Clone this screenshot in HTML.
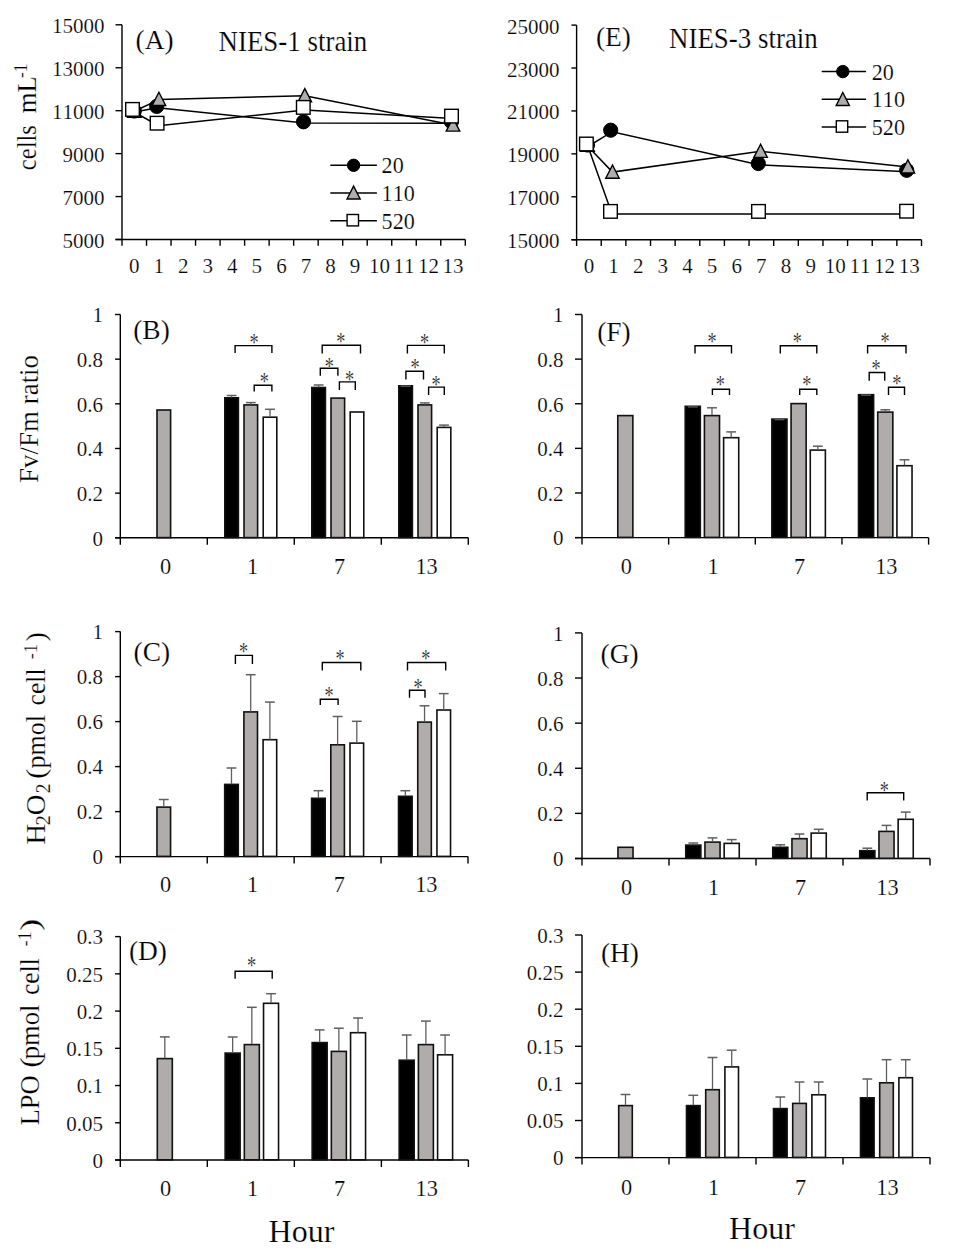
<!DOCTYPE html>
<html><head><meta charset="utf-8"><style>
html,body{margin:0;padding:0;background:#fff;}
svg{display:block;}
text{font-family:"Liberation Serif", serif;fill:#000;font-kerning:none;stroke:#fff;stroke-width:0.2px;}
</style></head><body>
<svg width="954" height="1256" viewBox="0 0 954 1256">
<rect width="954" height="1256" fill="#fff"/>
<line x1="122.00" y1="24.80" x2="122.00" y2="245.80" stroke="#000" stroke-width="1.4" stroke-linecap="butt"/>
<line x1="115.50" y1="239.50" x2="465.30" y2="239.50" stroke="#000" stroke-width="1.4" stroke-linecap="butt"/>
<line x1="115.50" y1="24.80" x2="122.00" y2="24.80" stroke="#000" stroke-width="1.4" stroke-linecap="butt"/>
<text x="104.50" y="33.30" font-size="21" text-anchor="end" >15000</text>
<line x1="115.50" y1="67.74" x2="122.00" y2="67.74" stroke="#000" stroke-width="1.4" stroke-linecap="butt"/>
<text x="104.50" y="76.24" font-size="21" text-anchor="end" >13000</text>
<line x1="115.50" y1="110.68" x2="122.00" y2="110.68" stroke="#000" stroke-width="1.4" stroke-linecap="butt"/>
<text x="104.50" y="119.18" font-size="21" text-anchor="end" >11000</text>
<line x1="115.50" y1="153.62" x2="122.00" y2="153.62" stroke="#000" stroke-width="1.4" stroke-linecap="butt"/>
<text x="104.50" y="162.12" font-size="21" text-anchor="end" >9000</text>
<line x1="115.50" y1="196.56" x2="122.00" y2="196.56" stroke="#000" stroke-width="1.4" stroke-linecap="butt"/>
<text x="104.50" y="205.06" font-size="21" text-anchor="end" >7000</text>
<line x1="115.50" y1="239.50" x2="122.00" y2="239.50" stroke="#000" stroke-width="1.4" stroke-linecap="butt"/>
<text x="104.50" y="248.00" font-size="21" text-anchor="end" >5000</text>
<line x1="146.52" y1="239.50" x2="146.52" y2="245.80" stroke="#000" stroke-width="1.4" stroke-linecap="butt"/>
<line x1="171.04" y1="239.50" x2="171.04" y2="245.80" stroke="#000" stroke-width="1.4" stroke-linecap="butt"/>
<line x1="195.56" y1="239.50" x2="195.56" y2="245.80" stroke="#000" stroke-width="1.4" stroke-linecap="butt"/>
<line x1="220.09" y1="239.50" x2="220.09" y2="245.80" stroke="#000" stroke-width="1.4" stroke-linecap="butt"/>
<line x1="244.61" y1="239.50" x2="244.61" y2="245.80" stroke="#000" stroke-width="1.4" stroke-linecap="butt"/>
<line x1="269.13" y1="239.50" x2="269.13" y2="245.80" stroke="#000" stroke-width="1.4" stroke-linecap="butt"/>
<line x1="293.65" y1="239.50" x2="293.65" y2="245.80" stroke="#000" stroke-width="1.4" stroke-linecap="butt"/>
<line x1="318.17" y1="239.50" x2="318.17" y2="245.80" stroke="#000" stroke-width="1.4" stroke-linecap="butt"/>
<line x1="342.69" y1="239.50" x2="342.69" y2="245.80" stroke="#000" stroke-width="1.4" stroke-linecap="butt"/>
<line x1="367.21" y1="239.50" x2="367.21" y2="245.80" stroke="#000" stroke-width="1.4" stroke-linecap="butt"/>
<line x1="391.74" y1="239.50" x2="391.74" y2="245.80" stroke="#000" stroke-width="1.4" stroke-linecap="butt"/>
<line x1="416.26" y1="239.50" x2="416.26" y2="245.80" stroke="#000" stroke-width="1.4" stroke-linecap="butt"/>
<line x1="440.78" y1="239.50" x2="440.78" y2="245.80" stroke="#000" stroke-width="1.4" stroke-linecap="butt"/>
<line x1="465.30" y1="239.50" x2="465.30" y2="245.80" stroke="#000" stroke-width="1.4" stroke-linecap="butt"/>
<text x="134.26" y="273.30" font-size="21" text-anchor="middle" >0</text>
<text x="158.78" y="273.30" font-size="21" text-anchor="middle" >1</text>
<text x="183.30" y="273.30" font-size="21" text-anchor="middle" >2</text>
<text x="207.82" y="273.30" font-size="21" text-anchor="middle" >3</text>
<text x="232.35" y="273.30" font-size="21" text-anchor="middle" >4</text>
<text x="256.87" y="273.30" font-size="21" text-anchor="middle" >5</text>
<text x="281.39" y="273.30" font-size="21" text-anchor="middle" >6</text>
<text x="305.91" y="273.30" font-size="21" text-anchor="middle" >7</text>
<text x="330.43" y="273.30" font-size="21" text-anchor="middle" >8</text>
<text x="354.95" y="273.30" font-size="21" text-anchor="middle" >9</text>
<text x="379.48" y="273.30" font-size="21" text-anchor="middle" >10</text>
<text x="404.00" y="273.30" font-size="21" text-anchor="middle" >11</text>
<text x="428.52" y="273.30" font-size="21" text-anchor="middle" >12</text>
<text x="453.04" y="273.30" font-size="21" text-anchor="middle" >13</text>
<text transform="translate(135.60,49.40) scale(0.97,1)" font-size="28.3" text-anchor="start">(A)</text>
<text transform="translate(218.50,50.60) scale(0.945,1)" font-size="28.5" text-anchor="start">NIES-1 strain</text>
<polyline points="134.30,112.00 157.60,107.80 304.50,123.00 452.50,123.20" fill="none" stroke="#000" stroke-width="1.5" stroke-linejoin="miter"/>
<polyline points="134.30,111.30 159.50,99.40 304.80,95.70 453.00,125.00" fill="none" stroke="#000" stroke-width="1.5" stroke-linejoin="miter"/>
<polyline points="134.00,112.00 158.60,125.70 304.80,110.00 453.00,118.60" fill="none" stroke="#000" stroke-width="1.5" stroke-linejoin="miter"/>
<circle cx="134.30" cy="111.00" r="7.1" fill="#000" stroke="#000" stroke-width="1"/>
<circle cx="156.70" cy="106.40" r="7.1" fill="#000" stroke="#000" stroke-width="1"/>
<circle cx="303.50" cy="121.80" r="7.1" fill="#000" stroke="#000" stroke-width="1"/>
<circle cx="451.30" cy="121.60" r="7.1" fill="#000" stroke="#000" stroke-width="1"/>
<polygon points="134.30,104.00 141.05,117.20 127.55,117.20" fill="#b0acab" stroke="#000" stroke-width="1.4" stroke-linejoin="miter"/>
<polygon points="158.90,92.30 165.65,105.50 152.15,105.50" fill="#b0acab" stroke="#000" stroke-width="1.4" stroke-linejoin="miter"/>
<polygon points="304.80,88.60 311.55,101.80 298.05,101.80" fill="#b0acab" stroke="#000" stroke-width="1.4" stroke-linejoin="miter"/>
<polygon points="453.00,117.90 459.75,131.10 446.25,131.10" fill="#b0acab" stroke="#000" stroke-width="1.4" stroke-linejoin="miter"/>
<rect x="125.70" y="102.60" width="13.60" height="13.60" fill="#fff" stroke="#000" stroke-width="1.4"/>
<rect x="150.30" y="116.40" width="13.60" height="13.60" fill="#fff" stroke="#000" stroke-width="1.4"/>
<rect x="296.50" y="100.60" width="13.60" height="13.60" fill="#fff" stroke="#000" stroke-width="1.4"/>
<rect x="444.70" y="109.30" width="13.60" height="13.60" fill="#fff" stroke="#000" stroke-width="1.4"/>
<line x1="330.30" y1="165.30" x2="376.90" y2="165.30" stroke="#000" stroke-width="1.5" stroke-linecap="butt"/>
<circle cx="353.60" cy="165.30" r="6.2" fill="#000" stroke="#000" stroke-width="1"/>
<text transform="translate(381.60,173.30) scale(0.94,1)" font-size="23.5" text-anchor="start">20</text>
<line x1="330.30" y1="192.90" x2="376.90" y2="192.90" stroke="#000" stroke-width="1.5" stroke-linecap="butt"/>
<polygon points="353.60,186.15 360.20,199.05 347.00,199.05" fill="#b0acab" stroke="#000" stroke-width="1.4" stroke-linejoin="miter"/>
<text transform="translate(381.60,200.90) scale(0.94,1)" font-size="23.5" text-anchor="start">110</text>
<line x1="330.30" y1="220.70" x2="376.90" y2="220.70" stroke="#000" stroke-width="1.5" stroke-linecap="butt"/>
<rect x="347.10" y="214.50" width="11.40" height="11.40" fill="#fff" stroke="#000" stroke-width="1.4"/>
<text transform="translate(381.60,228.70) scale(0.94,1)" font-size="23.5" text-anchor="start">520</text>
<text transform="translate(35.80,170.14) rotate(-90) scale(0.9000,1)" font-size="27.3" >cells</text>
<text transform="translate(35.80,113.36) rotate(-90) scale(0.9776,1)" font-size="27.3" >mL</text>
<text transform="translate(27.10,78.05) rotate(-90) scale(0.9403,1)" font-size="18.5" >-1</text>
<line x1="576.60" y1="25.10" x2="576.60" y2="246.00" stroke="#000" stroke-width="1.4" stroke-linecap="butt"/>
<line x1="571.40" y1="239.70" x2="921.50" y2="239.70" stroke="#000" stroke-width="1.4" stroke-linecap="butt"/>
<line x1="571.40" y1="25.10" x2="576.60" y2="25.10" stroke="#000" stroke-width="1.4" stroke-linecap="butt"/>
<text x="559.40" y="33.60" font-size="21" text-anchor="end" >25000</text>
<line x1="571.40" y1="68.02" x2="576.60" y2="68.02" stroke="#000" stroke-width="1.4" stroke-linecap="butt"/>
<text x="559.40" y="76.52" font-size="21" text-anchor="end" >23000</text>
<line x1="571.40" y1="110.94" x2="576.60" y2="110.94" stroke="#000" stroke-width="1.4" stroke-linecap="butt"/>
<text x="559.40" y="119.44" font-size="21" text-anchor="end" >21000</text>
<line x1="571.40" y1="153.86" x2="576.60" y2="153.86" stroke="#000" stroke-width="1.4" stroke-linecap="butt"/>
<text x="559.40" y="162.36" font-size="21" text-anchor="end" >19000</text>
<line x1="571.40" y1="196.78" x2="576.60" y2="196.78" stroke="#000" stroke-width="1.4" stroke-linecap="butt"/>
<text x="559.40" y="205.28" font-size="21" text-anchor="end" >17000</text>
<line x1="571.40" y1="239.70" x2="576.60" y2="239.70" stroke="#000" stroke-width="1.4" stroke-linecap="butt"/>
<text x="559.40" y="248.20" font-size="21" text-anchor="end" >15000</text>
<line x1="601.24" y1="239.70" x2="601.24" y2="246.00" stroke="#000" stroke-width="1.4" stroke-linecap="butt"/>
<line x1="625.87" y1="239.70" x2="625.87" y2="246.00" stroke="#000" stroke-width="1.4" stroke-linecap="butt"/>
<line x1="650.51" y1="239.70" x2="650.51" y2="246.00" stroke="#000" stroke-width="1.4" stroke-linecap="butt"/>
<line x1="675.14" y1="239.70" x2="675.14" y2="246.00" stroke="#000" stroke-width="1.4" stroke-linecap="butt"/>
<line x1="699.78" y1="239.70" x2="699.78" y2="246.00" stroke="#000" stroke-width="1.4" stroke-linecap="butt"/>
<line x1="724.41" y1="239.70" x2="724.41" y2="246.00" stroke="#000" stroke-width="1.4" stroke-linecap="butt"/>
<line x1="749.05" y1="239.70" x2="749.05" y2="246.00" stroke="#000" stroke-width="1.4" stroke-linecap="butt"/>
<line x1="773.69" y1="239.70" x2="773.69" y2="246.00" stroke="#000" stroke-width="1.4" stroke-linecap="butt"/>
<line x1="798.32" y1="239.70" x2="798.32" y2="246.00" stroke="#000" stroke-width="1.4" stroke-linecap="butt"/>
<line x1="822.96" y1="239.70" x2="822.96" y2="246.00" stroke="#000" stroke-width="1.4" stroke-linecap="butt"/>
<line x1="847.59" y1="239.70" x2="847.59" y2="246.00" stroke="#000" stroke-width="1.4" stroke-linecap="butt"/>
<line x1="872.23" y1="239.70" x2="872.23" y2="246.00" stroke="#000" stroke-width="1.4" stroke-linecap="butt"/>
<line x1="896.86" y1="239.70" x2="896.86" y2="246.00" stroke="#000" stroke-width="1.4" stroke-linecap="butt"/>
<line x1="921.50" y1="239.70" x2="921.50" y2="246.00" stroke="#000" stroke-width="1.4" stroke-linecap="butt"/>
<text x="588.92" y="272.80" font-size="21" text-anchor="middle" >0</text>
<text x="613.55" y="272.80" font-size="21" text-anchor="middle" >1</text>
<text x="638.19" y="272.80" font-size="21" text-anchor="middle" >2</text>
<text x="662.83" y="272.80" font-size="21" text-anchor="middle" >3</text>
<text x="687.46" y="272.80" font-size="21" text-anchor="middle" >4</text>
<text x="712.10" y="272.80" font-size="21" text-anchor="middle" >5</text>
<text x="736.73" y="272.80" font-size="21" text-anchor="middle" >6</text>
<text x="761.37" y="272.80" font-size="21" text-anchor="middle" >7</text>
<text x="786.00" y="272.80" font-size="21" text-anchor="middle" >8</text>
<text x="810.64" y="272.80" font-size="21" text-anchor="middle" >9</text>
<text x="835.27" y="272.80" font-size="21" text-anchor="middle" >10</text>
<text x="859.91" y="272.80" font-size="21" text-anchor="middle" >11</text>
<text x="884.55" y="272.80" font-size="21" text-anchor="middle" >12</text>
<text x="909.18" y="272.80" font-size="21" text-anchor="middle" >13</text>
<text transform="translate(595.90,46.40) scale(0.97,1)" font-size="28.3" text-anchor="start">(E)</text>
<text transform="translate(669.00,48.20) scale(0.945,1)" font-size="28.5" text-anchor="start">NIES-3 strain</text>
<polyline points="588.00,146.50 612.20,131.70 759.80,164.90 908.20,171.70" fill="none" stroke="#000" stroke-width="1.5" stroke-linejoin="miter"/>
<polyline points="588.00,146.50 612.50,172.10 760.60,151.30 907.90,167.00" fill="none" stroke="#000" stroke-width="1.5" stroke-linejoin="miter"/>
<polyline points="588.00,146.50 612.00,213.90 760.00,213.90 908.10,213.90" fill="none" stroke="#000" stroke-width="1.5" stroke-linejoin="miter"/>
<circle cx="587.50" cy="145.00" r="7.1" fill="#000" stroke="#000" stroke-width="1"/>
<circle cx="610.70" cy="130.20" r="7.1" fill="#000" stroke="#000" stroke-width="1"/>
<circle cx="758.30" cy="163.50" r="7.1" fill="#000" stroke="#000" stroke-width="1"/>
<circle cx="906.70" cy="170.30" r="7.1" fill="#000" stroke="#000" stroke-width="1"/>
<polygon points="587.60,138.00 594.35,151.20 580.85,151.20" fill="#b0acab" stroke="#000" stroke-width="1.4" stroke-linejoin="miter"/>
<polygon points="612.50,165.00 619.25,178.20 605.75,178.20" fill="#b0acab" stroke="#000" stroke-width="1.4" stroke-linejoin="miter"/>
<polygon points="760.60,144.20 767.35,157.40 753.85,157.40" fill="#b0acab" stroke="#000" stroke-width="1.4" stroke-linejoin="miter"/>
<polygon points="907.90,159.80 914.65,173.00 901.15,173.00" fill="#b0acab" stroke="#000" stroke-width="1.4" stroke-linejoin="miter"/>
<rect x="579.60" y="137.20" width="13.60" height="13.60" fill="#fff" stroke="#000" stroke-width="1.4"/>
<rect x="603.70" y="204.60" width="13.60" height="13.60" fill="#fff" stroke="#000" stroke-width="1.4"/>
<rect x="751.70" y="204.60" width="13.60" height="13.60" fill="#fff" stroke="#000" stroke-width="1.4"/>
<rect x="899.80" y="204.40" width="13.60" height="13.60" fill="#fff" stroke="#000" stroke-width="1.4"/>
<line x1="821.70" y1="71.60" x2="866.10" y2="71.60" stroke="#000" stroke-width="1.5" stroke-linecap="butt"/>
<circle cx="842.80" cy="71.60" r="6.2" fill="#000" stroke="#000" stroke-width="1"/>
<text transform="translate(871.80,79.60) scale(0.94,1)" font-size="23.5" text-anchor="start">20</text>
<line x1="821.70" y1="99.30" x2="866.10" y2="99.30" stroke="#000" stroke-width="1.5" stroke-linecap="butt"/>
<polygon points="842.80,92.55 849.40,105.45 836.20,105.45" fill="#b0acab" stroke="#000" stroke-width="1.4" stroke-linejoin="miter"/>
<text transform="translate(871.80,107.30) scale(0.94,1)" font-size="23.5" text-anchor="start">110</text>
<line x1="821.70" y1="127.00" x2="866.10" y2="127.00" stroke="#000" stroke-width="1.5" stroke-linecap="butt"/>
<rect x="836.30" y="120.80" width="11.40" height="11.40" fill="#fff" stroke="#000" stroke-width="1.4"/>
<text transform="translate(871.80,135.00) scale(0.94,1)" font-size="23.5" text-anchor="start">520</text>
<line x1="120.30" y1="314.50" x2="120.30" y2="544.80" stroke="#000" stroke-width="1.4" stroke-linecap="butt"/>
<line x1="115.10" y1="537.80" x2="468.30" y2="537.80" stroke="#000" stroke-width="1.4" stroke-linecap="butt"/>
<line x1="115.10" y1="314.50" x2="120.30" y2="314.50" stroke="#000" stroke-width="1.4" stroke-linecap="butt"/>
<text x="103.00" y="322.30" font-size="21" text-anchor="end" >1</text>
<line x1="115.10" y1="359.16" x2="120.30" y2="359.16" stroke="#000" stroke-width="1.4" stroke-linecap="butt"/>
<text x="103.00" y="366.96" font-size="21" text-anchor="end" >0.8</text>
<line x1="115.10" y1="403.82" x2="120.30" y2="403.82" stroke="#000" stroke-width="1.4" stroke-linecap="butt"/>
<text x="103.00" y="411.62" font-size="21" text-anchor="end" >0.6</text>
<line x1="115.10" y1="448.48" x2="120.30" y2="448.48" stroke="#000" stroke-width="1.4" stroke-linecap="butt"/>
<text x="103.00" y="456.28" font-size="21" text-anchor="end" >0.4</text>
<line x1="115.10" y1="493.14" x2="120.30" y2="493.14" stroke="#000" stroke-width="1.4" stroke-linecap="butt"/>
<text x="103.00" y="500.94" font-size="21" text-anchor="end" >0.2</text>
<line x1="115.10" y1="537.80" x2="120.30" y2="537.80" stroke="#000" stroke-width="1.4" stroke-linecap="butt"/>
<text x="103.00" y="545.60" font-size="21" text-anchor="end" >0</text>
<line x1="207.30" y1="537.80" x2="207.30" y2="544.80" stroke="#000" stroke-width="1.4" stroke-linecap="butt"/>
<line x1="294.30" y1="537.80" x2="294.30" y2="544.80" stroke="#000" stroke-width="1.4" stroke-linecap="butt"/>
<line x1="381.30" y1="537.80" x2="381.30" y2="544.80" stroke="#000" stroke-width="1.4" stroke-linecap="butt"/>
<line x1="468.30" y1="537.80" x2="468.30" y2="544.80" stroke="#000" stroke-width="1.4" stroke-linecap="butt"/>
<text transform="translate(165.60,574.20) scale(0.93,1)" font-size="24" text-anchor="middle">0</text>
<text transform="translate(252.60,574.20) scale(0.93,1)" font-size="24" text-anchor="middle">1</text>
<text transform="translate(339.60,574.20) scale(0.93,1)" font-size="24" text-anchor="middle">7</text>
<text transform="translate(426.60,574.20) scale(0.93,1)" font-size="24" text-anchor="middle">13</text>
<text transform="translate(133.20,339.00) scale(0.97,1)" font-size="28.3" text-anchor="start">(B)</text>
<rect x="157.00" y="410.00" width="13.60" height="127.60" fill="#b0acab" stroke="#111" stroke-width="1.6"/>
<rect x="224.80" y="397.80" width="13.60" height="139.80" fill="#000" stroke="#111" stroke-width="1.6"/>
<line x1="231.60" y1="395.50" x2="231.60" y2="397.50" stroke="#5f5f5f" stroke-width="1.3" stroke-linecap="butt"/>
<line x1="226.70" y1="395.50" x2="236.50" y2="395.50" stroke="#5f5f5f" stroke-width="1.5" stroke-linecap="butt"/>
<rect x="244.00" y="404.90" width="13.60" height="132.70" fill="#b0acab" stroke="#111" stroke-width="1.6"/>
<line x1="250.80" y1="402.60" x2="250.80" y2="404.60" stroke="#5f5f5f" stroke-width="1.3" stroke-linecap="butt"/>
<line x1="245.90" y1="402.60" x2="255.70" y2="402.60" stroke="#5f5f5f" stroke-width="1.5" stroke-linecap="butt"/>
<rect x="263.20" y="417.20" width="13.60" height="120.40" fill="#fff" stroke="#111" stroke-width="1.6"/>
<line x1="270.00" y1="409.30" x2="270.00" y2="416.90" stroke="#5f5f5f" stroke-width="1.3" stroke-linecap="butt"/>
<line x1="265.10" y1="409.30" x2="274.90" y2="409.30" stroke="#5f5f5f" stroke-width="1.5" stroke-linecap="butt"/>
<rect x="311.80" y="387.50" width="13.60" height="150.10" fill="#000" stroke="#111" stroke-width="1.6"/>
<line x1="318.60" y1="385.00" x2="318.60" y2="387.20" stroke="#5f5f5f" stroke-width="1.3" stroke-linecap="butt"/>
<line x1="313.70" y1="385.00" x2="323.50" y2="385.00" stroke="#5f5f5f" stroke-width="1.5" stroke-linecap="butt"/>
<rect x="331.00" y="398.10" width="13.60" height="139.50" fill="#b0acab" stroke="#111" stroke-width="1.6"/>
<rect x="350.20" y="412.00" width="13.60" height="125.60" fill="#fff" stroke="#111" stroke-width="1.6"/>
<rect x="398.80" y="385.80" width="13.60" height="151.80" fill="#000" stroke="#111" stroke-width="1.6"/>
<line x1="400.70" y1="386.20" x2="410.50" y2="386.20" stroke="#555" stroke-width="1.5" stroke-linecap="butt"/>
<rect x="418.00" y="404.90" width="13.60" height="132.70" fill="#b0acab" stroke="#111" stroke-width="1.6"/>
<line x1="424.80" y1="402.90" x2="424.80" y2="404.60" stroke="#5f5f5f" stroke-width="1.3" stroke-linecap="butt"/>
<line x1="419.90" y1="402.90" x2="429.70" y2="402.90" stroke="#5f5f5f" stroke-width="1.5" stroke-linecap="butt"/>
<rect x="437.20" y="427.40" width="13.60" height="110.20" fill="#fff" stroke="#111" stroke-width="1.6"/>
<line x1="444.00" y1="425.10" x2="444.00" y2="427.10" stroke="#5f5f5f" stroke-width="1.3" stroke-linecap="butt"/>
<line x1="439.10" y1="425.10" x2="448.90" y2="425.10" stroke="#5f5f5f" stroke-width="1.5" stroke-linecap="butt"/>
<polyline points="235.10,353.10 235.10,345.60 271.90,345.60 271.90,353.10" fill="none" stroke="#000" stroke-width="1.4" stroke-linejoin="miter"/>
<text transform="translate(254.00,333.80) scale(0.87,1.17)" x="0" y="14.4" font-size="21" text-anchor="middle">*</text>
<polyline points="254.20,391.40 254.20,385.20 271.90,385.20 271.90,391.40" fill="none" stroke="#000" stroke-width="1.4" stroke-linejoin="miter"/>
<text transform="translate(264.30,372.80) scale(0.87,1.17)" x="0" y="14.4" font-size="21" text-anchor="middle">*</text>
<polyline points="322.20,353.50 322.20,345.30 360.50,345.30 360.50,353.50" fill="none" stroke="#000" stroke-width="1.4" stroke-linejoin="miter"/>
<text transform="translate(340.80,333.00) scale(0.87,1.17)" x="0" y="14.4" font-size="21" text-anchor="middle">*</text>
<polyline points="320.30,375.80 320.30,368.20 337.90,368.20 337.90,375.80" fill="none" stroke="#000" stroke-width="1.4" stroke-linejoin="miter"/>
<text transform="translate(329.20,358.40) scale(0.87,1.17)" x="0" y="14.4" font-size="21" text-anchor="middle">*</text>
<polyline points="339.40,390.00 339.40,381.90 355.30,381.90 355.30,390.00" fill="none" stroke="#000" stroke-width="1.4" stroke-linejoin="miter"/>
<text transform="translate(349.50,371.20) scale(0.87,1.17)" x="0" y="14.4" font-size="21" text-anchor="middle">*</text>
<polyline points="407.40,353.40 407.40,345.40 444.30,345.40 444.30,353.40" fill="none" stroke="#000" stroke-width="1.4" stroke-linejoin="miter"/>
<text transform="translate(424.50,333.80) scale(0.87,1.17)" x="0" y="14.4" font-size="21" text-anchor="middle">*</text>
<polyline points="405.90,379.50 405.90,371.30 423.50,371.30 423.50,379.50" fill="none" stroke="#000" stroke-width="1.4" stroke-linejoin="miter"/>
<text transform="translate(415.00,359.00) scale(0.87,1.17)" x="0" y="14.4" font-size="21" text-anchor="middle">*</text>
<polyline points="428.60,395.00 428.60,387.10 444.30,387.10 444.30,395.00" fill="none" stroke="#000" stroke-width="1.4" stroke-linejoin="miter"/>
<text transform="translate(436.00,376.00) scale(0.87,1.17)" x="0" y="14.4" font-size="21" text-anchor="middle">*</text>
<text transform="translate(38.30,482.88) rotate(-90) scale(0.9870,1)" font-size="27.3" >Fv/Fm ratio</text>
<line x1="120.30" y1="631.60" x2="120.30" y2="863.60" stroke="#000" stroke-width="1.4" stroke-linecap="butt"/>
<line x1="115.10" y1="856.60" x2="468.00" y2="856.60" stroke="#000" stroke-width="1.4" stroke-linecap="butt"/>
<line x1="115.10" y1="631.60" x2="120.30" y2="631.60" stroke="#000" stroke-width="1.4" stroke-linecap="butt"/>
<text x="103.00" y="639.40" font-size="21" text-anchor="end" >1</text>
<line x1="115.10" y1="676.60" x2="120.30" y2="676.60" stroke="#000" stroke-width="1.4" stroke-linecap="butt"/>
<text x="103.00" y="684.40" font-size="21" text-anchor="end" >0.8</text>
<line x1="115.10" y1="721.60" x2="120.30" y2="721.60" stroke="#000" stroke-width="1.4" stroke-linecap="butt"/>
<text x="103.00" y="729.40" font-size="21" text-anchor="end" >0.6</text>
<line x1="115.10" y1="766.60" x2="120.30" y2="766.60" stroke="#000" stroke-width="1.4" stroke-linecap="butt"/>
<text x="103.00" y="774.40" font-size="21" text-anchor="end" >0.4</text>
<line x1="115.10" y1="811.60" x2="120.30" y2="811.60" stroke="#000" stroke-width="1.4" stroke-linecap="butt"/>
<text x="103.00" y="819.40" font-size="21" text-anchor="end" >0.2</text>
<line x1="115.10" y1="856.60" x2="120.30" y2="856.60" stroke="#000" stroke-width="1.4" stroke-linecap="butt"/>
<text x="103.00" y="864.40" font-size="21" text-anchor="end" >0</text>
<line x1="207.22" y1="856.60" x2="207.22" y2="863.60" stroke="#000" stroke-width="1.4" stroke-linecap="butt"/>
<line x1="294.15" y1="856.60" x2="294.15" y2="863.60" stroke="#000" stroke-width="1.4" stroke-linecap="butt"/>
<line x1="381.07" y1="856.60" x2="381.07" y2="863.60" stroke="#000" stroke-width="1.4" stroke-linecap="butt"/>
<line x1="468.00" y1="856.60" x2="468.00" y2="863.60" stroke="#000" stroke-width="1.4" stroke-linecap="butt"/>
<text transform="translate(165.56,891.70) scale(0.93,1)" font-size="24" text-anchor="middle">0</text>
<text transform="translate(252.49,891.70) scale(0.93,1)" font-size="24" text-anchor="middle">1</text>
<text transform="translate(339.41,891.70) scale(0.93,1)" font-size="24" text-anchor="middle">7</text>
<text transform="translate(426.34,891.70) scale(0.93,1)" font-size="24" text-anchor="middle">13</text>
<text transform="translate(133.50,661.40) scale(0.97,1)" font-size="28.3" text-anchor="start">(C)</text>
<rect x="156.96" y="807.10" width="13.60" height="49.30" fill="#b0acab" stroke="#111" stroke-width="1.6"/>
<line x1="163.76" y1="799.50" x2="163.76" y2="806.80" stroke="#5f5f5f" stroke-width="1.3" stroke-linecap="butt"/>
<line x1="158.86" y1="799.50" x2="168.66" y2="799.50" stroke="#5f5f5f" stroke-width="1.5" stroke-linecap="butt"/>
<rect x="224.69" y="784.40" width="13.60" height="72.00" fill="#000" stroke="#111" stroke-width="1.6"/>
<line x1="231.49" y1="768.00" x2="231.49" y2="784.10" stroke="#5f5f5f" stroke-width="1.3" stroke-linecap="butt"/>
<line x1="226.59" y1="768.00" x2="236.39" y2="768.00" stroke="#5f5f5f" stroke-width="1.5" stroke-linecap="butt"/>
<rect x="243.89" y="711.90" width="13.60" height="144.50" fill="#b0acab" stroke="#111" stroke-width="1.6"/>
<line x1="250.69" y1="674.70" x2="250.69" y2="711.60" stroke="#5f5f5f" stroke-width="1.3" stroke-linecap="butt"/>
<line x1="245.79" y1="674.70" x2="255.59" y2="674.70" stroke="#5f5f5f" stroke-width="1.5" stroke-linecap="butt"/>
<rect x="263.09" y="739.70" width="13.60" height="116.70" fill="#fff" stroke="#111" stroke-width="1.6"/>
<line x1="269.89" y1="702.10" x2="269.89" y2="739.40" stroke="#5f5f5f" stroke-width="1.3" stroke-linecap="butt"/>
<line x1="264.99" y1="702.10" x2="274.79" y2="702.10" stroke="#5f5f5f" stroke-width="1.5" stroke-linecap="butt"/>
<rect x="311.61" y="798.30" width="13.60" height="58.10" fill="#000" stroke="#111" stroke-width="1.6"/>
<line x1="318.41" y1="790.70" x2="318.41" y2="798.00" stroke="#5f5f5f" stroke-width="1.3" stroke-linecap="butt"/>
<line x1="313.51" y1="790.70" x2="323.31" y2="790.70" stroke="#5f5f5f" stroke-width="1.5" stroke-linecap="butt"/>
<rect x="330.81" y="744.80" width="13.60" height="111.60" fill="#b0acab" stroke="#111" stroke-width="1.6"/>
<line x1="337.61" y1="716.50" x2="337.61" y2="744.50" stroke="#5f5f5f" stroke-width="1.3" stroke-linecap="butt"/>
<line x1="332.71" y1="716.50" x2="342.51" y2="716.50" stroke="#5f5f5f" stroke-width="1.5" stroke-linecap="butt"/>
<rect x="350.01" y="743.10" width="13.60" height="113.30" fill="#fff" stroke="#111" stroke-width="1.6"/>
<line x1="356.81" y1="721.30" x2="356.81" y2="742.80" stroke="#5f5f5f" stroke-width="1.3" stroke-linecap="butt"/>
<line x1="351.91" y1="721.30" x2="361.71" y2="721.30" stroke="#5f5f5f" stroke-width="1.5" stroke-linecap="butt"/>
<rect x="398.54" y="796.30" width="13.60" height="60.10" fill="#000" stroke="#111" stroke-width="1.6"/>
<line x1="405.34" y1="790.70" x2="405.34" y2="796.00" stroke="#5f5f5f" stroke-width="1.3" stroke-linecap="butt"/>
<line x1="400.44" y1="790.70" x2="410.24" y2="790.70" stroke="#5f5f5f" stroke-width="1.5" stroke-linecap="butt"/>
<rect x="417.74" y="722.10" width="13.60" height="134.30" fill="#b0acab" stroke="#111" stroke-width="1.6"/>
<line x1="424.54" y1="705.80" x2="424.54" y2="721.80" stroke="#5f5f5f" stroke-width="1.3" stroke-linecap="butt"/>
<line x1="419.64" y1="705.80" x2="429.44" y2="705.80" stroke="#5f5f5f" stroke-width="1.5" stroke-linecap="butt"/>
<rect x="436.94" y="710.00" width="13.60" height="146.40" fill="#fff" stroke="#111" stroke-width="1.6"/>
<line x1="443.74" y1="693.60" x2="443.74" y2="709.70" stroke="#5f5f5f" stroke-width="1.3" stroke-linecap="butt"/>
<line x1="438.84" y1="693.60" x2="448.64" y2="693.60" stroke="#5f5f5f" stroke-width="1.5" stroke-linecap="butt"/>
<polyline points="235.40,663.90 235.40,655.40 252.40,655.40 252.40,663.90" fill="none" stroke="#000" stroke-width="1.4" stroke-linejoin="miter"/>
<text transform="translate(243.60,643.30) scale(0.87,1.17)" x="0" y="14.4" font-size="21" text-anchor="middle">*</text>
<polyline points="322.30,670.40 322.30,662.50 360.80,662.50 360.80,670.40" fill="none" stroke="#000" stroke-width="1.4" stroke-linejoin="miter"/>
<text transform="translate(340.10,650.60) scale(0.87,1.17)" x="0" y="14.4" font-size="21" text-anchor="middle">*</text>
<polyline points="320.30,704.90 320.30,699.30 338.10,699.30 338.10,704.90" fill="none" stroke="#000" stroke-width="1.4" stroke-linejoin="miter"/>
<text transform="translate(329.10,687.10) scale(0.87,1.17)" x="0" y="14.4" font-size="21" text-anchor="middle">*</text>
<polyline points="407.50,670.40 407.50,662.50 445.70,662.50 445.70,670.40" fill="none" stroke="#000" stroke-width="1.4" stroke-linejoin="miter"/>
<text transform="translate(425.90,649.70) scale(0.87,1.17)" x="0" y="14.4" font-size="21" text-anchor="middle">*</text>
<polyline points="409.50,697.80 409.50,690.20 425.00,690.20 425.00,697.80" fill="none" stroke="#000" stroke-width="1.4" stroke-linejoin="miter"/>
<text transform="translate(418.00,679.40) scale(0.87,1.17)" x="0" y="14.4" font-size="21" text-anchor="middle">*</text>
<text transform="translate(44.90,844.64) rotate(-90) scale(1.0646,1)" font-size="27.3" >H</text>
<text transform="translate(50.00,825.41) rotate(-90) scale(1.0352,1)" font-size="20" >2</text>
<text transform="translate(44.90,815.18) rotate(-90) scale(1.0529,1)" font-size="27.3" >O</text>
<text transform="translate(50.00,793.36) rotate(-90) scale(0.9729,1)" font-size="20" >2</text>
<text transform="translate(44.90,779.05) rotate(-90) scale(1.1267,1)" font-size="27.3" >(</text>
<text transform="translate(44.90,768.52) rotate(-90) scale(0.9559,1)" font-size="27.3" >pmol</text>
<text transform="translate(44.90,705.48) rotate(-90) scale(0.9387,1)" font-size="27.3" >cell</text>
<text transform="translate(36.70,659.18) rotate(-90) scale(0.9844,1)" font-size="18.5" >-1</text>
<text transform="translate(44.90,641.50) rotate(-90) scale(1.0269,1)" font-size="27.3" >)</text>
<line x1="120.30" y1="936.60" x2="120.30" y2="1167.00" stroke="#000" stroke-width="1.4" stroke-linecap="butt"/>
<line x1="115.10" y1="1160.00" x2="468.40" y2="1160.00" stroke="#000" stroke-width="1.4" stroke-linecap="butt"/>
<line x1="115.10" y1="936.60" x2="120.30" y2="936.60" stroke="#000" stroke-width="1.4" stroke-linecap="butt"/>
<text x="103.00" y="944.40" font-size="21" text-anchor="end" >0.3</text>
<line x1="115.10" y1="973.83" x2="120.30" y2="973.83" stroke="#000" stroke-width="1.4" stroke-linecap="butt"/>
<text x="103.00" y="981.63" font-size="21" text-anchor="end" >0.25</text>
<line x1="115.10" y1="1011.07" x2="120.30" y2="1011.07" stroke="#000" stroke-width="1.4" stroke-linecap="butt"/>
<text x="103.00" y="1018.87" font-size="21" text-anchor="end" >0.2</text>
<line x1="115.10" y1="1048.30" x2="120.30" y2="1048.30" stroke="#000" stroke-width="1.4" stroke-linecap="butt"/>
<text x="103.00" y="1056.10" font-size="21" text-anchor="end" >0.15</text>
<line x1="115.10" y1="1085.53" x2="120.30" y2="1085.53" stroke="#000" stroke-width="1.4" stroke-linecap="butt"/>
<text x="103.00" y="1093.33" font-size="21" text-anchor="end" >0.1</text>
<line x1="115.10" y1="1122.77" x2="120.30" y2="1122.77" stroke="#000" stroke-width="1.4" stroke-linecap="butt"/>
<text x="103.00" y="1130.57" font-size="21" text-anchor="end" >0.05</text>
<line x1="115.10" y1="1160.00" x2="120.30" y2="1160.00" stroke="#000" stroke-width="1.4" stroke-linecap="butt"/>
<text x="103.00" y="1167.80" font-size="21" text-anchor="end" >0</text>
<line x1="207.32" y1="1160.00" x2="207.32" y2="1167.00" stroke="#000" stroke-width="1.4" stroke-linecap="butt"/>
<line x1="294.35" y1="1160.00" x2="294.35" y2="1167.00" stroke="#000" stroke-width="1.4" stroke-linecap="butt"/>
<line x1="381.38" y1="1160.00" x2="381.38" y2="1167.00" stroke="#000" stroke-width="1.4" stroke-linecap="butt"/>
<line x1="468.40" y1="1160.00" x2="468.40" y2="1167.00" stroke="#000" stroke-width="1.4" stroke-linecap="butt"/>
<text transform="translate(165.61,1196.00) scale(0.93,1)" font-size="24" text-anchor="middle">0</text>
<text transform="translate(252.64,1196.00) scale(0.93,1)" font-size="24" text-anchor="middle">1</text>
<text transform="translate(339.66,1196.00) scale(0.93,1)" font-size="24" text-anchor="middle">7</text>
<text transform="translate(426.69,1196.00) scale(0.93,1)" font-size="24" text-anchor="middle">13</text>
<text transform="translate(128.90,959.60) scale(0.97,1)" font-size="28.3" text-anchor="start">(D)</text>
<rect x="157.31" y="1058.60" width="15.00" height="101.20" fill="#b0acab" stroke="#111" stroke-width="1.6"/>
<line x1="164.81" y1="1036.90" x2="164.81" y2="1058.30" stroke="#5f5f5f" stroke-width="1.3" stroke-linecap="butt"/>
<line x1="159.91" y1="1036.90" x2="169.71" y2="1036.90" stroke="#5f5f5f" stroke-width="1.5" stroke-linecap="butt"/>
<rect x="225.14" y="1053.10" width="15.00" height="106.70" fill="#000" stroke="#111" stroke-width="1.6"/>
<line x1="232.64" y1="1037.00" x2="232.64" y2="1052.80" stroke="#5f5f5f" stroke-width="1.3" stroke-linecap="butt"/>
<line x1="227.74" y1="1037.00" x2="237.54" y2="1037.00" stroke="#5f5f5f" stroke-width="1.5" stroke-linecap="butt"/>
<rect x="244.34" y="1044.60" width="15.00" height="115.20" fill="#b0acab" stroke="#111" stroke-width="1.6"/>
<line x1="251.84" y1="1007.30" x2="251.84" y2="1044.30" stroke="#5f5f5f" stroke-width="1.3" stroke-linecap="butt"/>
<line x1="246.94" y1="1007.30" x2="256.74" y2="1007.30" stroke="#5f5f5f" stroke-width="1.5" stroke-linecap="butt"/>
<rect x="263.54" y="1003.30" width="15.00" height="156.50" fill="#fff" stroke="#111" stroke-width="1.6"/>
<line x1="271.04" y1="993.70" x2="271.04" y2="1003.00" stroke="#5f5f5f" stroke-width="1.3" stroke-linecap="butt"/>
<line x1="266.14" y1="993.70" x2="275.94" y2="993.70" stroke="#5f5f5f" stroke-width="1.5" stroke-linecap="butt"/>
<rect x="312.16" y="1042.60" width="15.00" height="117.20" fill="#000" stroke="#111" stroke-width="1.6"/>
<line x1="319.66" y1="1029.90" x2="319.66" y2="1042.30" stroke="#5f5f5f" stroke-width="1.3" stroke-linecap="butt"/>
<line x1="314.76" y1="1029.90" x2="324.56" y2="1029.90" stroke="#5f5f5f" stroke-width="1.5" stroke-linecap="butt"/>
<rect x="331.36" y="1051.40" width="15.00" height="108.40" fill="#b0acab" stroke="#111" stroke-width="1.6"/>
<line x1="338.86" y1="1028.20" x2="338.86" y2="1051.10" stroke="#5f5f5f" stroke-width="1.3" stroke-linecap="butt"/>
<line x1="333.96" y1="1028.20" x2="343.76" y2="1028.20" stroke="#5f5f5f" stroke-width="1.5" stroke-linecap="butt"/>
<rect x="350.56" y="1032.70" width="15.00" height="127.10" fill="#fff" stroke="#111" stroke-width="1.6"/>
<line x1="358.06" y1="1018.00" x2="358.06" y2="1032.40" stroke="#5f5f5f" stroke-width="1.3" stroke-linecap="butt"/>
<line x1="353.16" y1="1018.00" x2="362.96" y2="1018.00" stroke="#5f5f5f" stroke-width="1.5" stroke-linecap="butt"/>
<rect x="399.19" y="1060.20" width="15.00" height="99.60" fill="#000" stroke="#111" stroke-width="1.6"/>
<line x1="406.69" y1="1035.00" x2="406.69" y2="1059.90" stroke="#5f5f5f" stroke-width="1.3" stroke-linecap="butt"/>
<line x1="401.79" y1="1035.00" x2="411.59" y2="1035.00" stroke="#5f5f5f" stroke-width="1.5" stroke-linecap="butt"/>
<rect x="418.39" y="1044.60" width="15.00" height="115.20" fill="#b0acab" stroke="#111" stroke-width="1.6"/>
<line x1="425.89" y1="1021.10" x2="425.89" y2="1044.30" stroke="#5f5f5f" stroke-width="1.3" stroke-linecap="butt"/>
<line x1="420.99" y1="1021.10" x2="430.79" y2="1021.10" stroke="#5f5f5f" stroke-width="1.5" stroke-linecap="butt"/>
<rect x="437.59" y="1054.80" width="15.00" height="105.00" fill="#fff" stroke="#111" stroke-width="1.6"/>
<line x1="445.09" y1="1035.00" x2="445.09" y2="1054.50" stroke="#5f5f5f" stroke-width="1.3" stroke-linecap="butt"/>
<line x1="440.19" y1="1035.00" x2="449.99" y2="1035.00" stroke="#5f5f5f" stroke-width="1.5" stroke-linecap="butt"/>
<polyline points="235.10,978.70 235.10,971.30 272.20,971.30 272.20,978.70" fill="none" stroke="#000" stroke-width="1.4" stroke-linejoin="miter"/>
<text transform="translate(251.50,956.90) scale(0.87,1.17)" x="0" y="14.4" font-size="21" text-anchor="middle">*</text>
<text transform="translate(38.80,1125.36) rotate(-90) scale(0.9684,1)" font-size="27.3" >LPO</text>
<text transform="translate(38.80,1067.75) rotate(-90) scale(1.1267,1)" font-size="27.3" >(</text>
<text transform="translate(38.80,1059.23) rotate(-90) scale(0.9740,1)" font-size="27.3" >pmol</text>
<text transform="translate(38.80,994.97) rotate(-90) scale(0.9361,1)" font-size="27.3" >cell</text>
<text transform="translate(30.50,946.48) rotate(-90) scale(0.9917,1)" font-size="18.5" >-1</text>
<text transform="translate(38.80,931.09) rotate(-90) scale(1.3549,1)" font-size="27.3" >)</text>
<text x="301.50" y="1241.70" font-size="32" text-anchor="middle" >Hour</text>
<line x1="582.00" y1="314.50" x2="582.00" y2="544.60" stroke="#000" stroke-width="1.4" stroke-linecap="butt"/>
<line x1="575.00" y1="537.60" x2="928.60" y2="537.60" stroke="#000" stroke-width="1.4" stroke-linecap="butt"/>
<line x1="575.00" y1="314.50" x2="582.00" y2="314.50" stroke="#000" stroke-width="1.4" stroke-linecap="butt"/>
<text x="563.40" y="322.30" font-size="21" text-anchor="end" >1</text>
<line x1="575.00" y1="359.12" x2="582.00" y2="359.12" stroke="#000" stroke-width="1.4" stroke-linecap="butt"/>
<text x="563.40" y="366.92" font-size="21" text-anchor="end" >0.8</text>
<line x1="575.00" y1="403.74" x2="582.00" y2="403.74" stroke="#000" stroke-width="1.4" stroke-linecap="butt"/>
<text x="563.40" y="411.54" font-size="21" text-anchor="end" >0.6</text>
<line x1="575.00" y1="448.36" x2="582.00" y2="448.36" stroke="#000" stroke-width="1.4" stroke-linecap="butt"/>
<text x="563.40" y="456.16" font-size="21" text-anchor="end" >0.4</text>
<line x1="575.00" y1="492.98" x2="582.00" y2="492.98" stroke="#000" stroke-width="1.4" stroke-linecap="butt"/>
<text x="563.40" y="500.78" font-size="21" text-anchor="end" >0.2</text>
<line x1="575.00" y1="537.60" x2="582.00" y2="537.60" stroke="#000" stroke-width="1.4" stroke-linecap="butt"/>
<text x="563.40" y="545.40" font-size="21" text-anchor="end" >0</text>
<line x1="668.65" y1="537.60" x2="668.65" y2="544.60" stroke="#000" stroke-width="1.4" stroke-linecap="butt"/>
<line x1="755.30" y1="537.60" x2="755.30" y2="544.60" stroke="#000" stroke-width="1.4" stroke-linecap="butt"/>
<line x1="841.95" y1="537.60" x2="841.95" y2="544.60" stroke="#000" stroke-width="1.4" stroke-linecap="butt"/>
<line x1="928.60" y1="537.60" x2="928.60" y2="544.60" stroke="#000" stroke-width="1.4" stroke-linecap="butt"/>
<text transform="translate(626.33,574.20) scale(0.93,1)" font-size="24" text-anchor="middle">0</text>
<text transform="translate(712.98,574.20) scale(0.93,1)" font-size="24" text-anchor="middle">1</text>
<text transform="translate(799.62,574.20) scale(0.93,1)" font-size="24" text-anchor="middle">7</text>
<text transform="translate(886.28,574.20) scale(0.93,1)" font-size="24" text-anchor="middle">13</text>
<text transform="translate(597.20,340.80) scale(0.97,1)" font-size="28.3" text-anchor="start">(F)</text>
<rect x="617.77" y="415.60" width="15.10" height="121.80" fill="#b0acab" stroke="#111" stroke-width="1.6"/>
<rect x="685.22" y="406.30" width="15.10" height="131.10" fill="#000" stroke="#111" stroke-width="1.6"/>
<line x1="687.88" y1="406.90" x2="697.67" y2="406.90" stroke="#555" stroke-width="1.5" stroke-linecap="butt"/>
<rect x="704.42" y="415.60" width="15.10" height="121.80" fill="#b0acab" stroke="#111" stroke-width="1.6"/>
<line x1="711.98" y1="407.80" x2="711.98" y2="415.30" stroke="#5f5f5f" stroke-width="1.3" stroke-linecap="butt"/>
<line x1="707.08" y1="407.80" x2="716.88" y2="407.80" stroke="#5f5f5f" stroke-width="1.5" stroke-linecap="butt"/>
<rect x="723.62" y="437.70" width="15.10" height="99.70" fill="#fff" stroke="#111" stroke-width="1.6"/>
<line x1="731.18" y1="431.90" x2="731.18" y2="437.40" stroke="#5f5f5f" stroke-width="1.3" stroke-linecap="butt"/>
<line x1="726.28" y1="431.90" x2="736.08" y2="431.90" stroke="#5f5f5f" stroke-width="1.5" stroke-linecap="butt"/>
<rect x="771.87" y="419.10" width="15.10" height="118.30" fill="#000" stroke="#111" stroke-width="1.6"/>
<line x1="774.52" y1="419.60" x2="784.32" y2="419.60" stroke="#555" stroke-width="1.5" stroke-linecap="butt"/>
<rect x="791.07" y="403.60" width="15.10" height="133.80" fill="#b0acab" stroke="#111" stroke-width="1.6"/>
<rect x="810.27" y="450.10" width="15.10" height="87.30" fill="#fff" stroke="#111" stroke-width="1.6"/>
<line x1="817.83" y1="446.20" x2="817.83" y2="449.80" stroke="#5f5f5f" stroke-width="1.3" stroke-linecap="butt"/>
<line x1="812.93" y1="446.20" x2="822.73" y2="446.20" stroke="#5f5f5f" stroke-width="1.5" stroke-linecap="butt"/>
<rect x="858.52" y="394.70" width="15.10" height="142.70" fill="#000" stroke="#111" stroke-width="1.6"/>
<line x1="861.18" y1="395.20" x2="870.98" y2="395.20" stroke="#555" stroke-width="1.5" stroke-linecap="butt"/>
<rect x="877.73" y="412.10" width="15.10" height="125.30" fill="#b0acab" stroke="#111" stroke-width="1.6"/>
<line x1="885.28" y1="409.80" x2="885.28" y2="411.80" stroke="#5f5f5f" stroke-width="1.3" stroke-linecap="butt"/>
<line x1="880.38" y1="409.80" x2="890.18" y2="409.80" stroke="#5f5f5f" stroke-width="1.5" stroke-linecap="butt"/>
<rect x="896.93" y="465.70" width="15.10" height="71.70" fill="#fff" stroke="#111" stroke-width="1.6"/>
<line x1="904.48" y1="459.80" x2="904.48" y2="465.40" stroke="#5f5f5f" stroke-width="1.3" stroke-linecap="butt"/>
<line x1="899.58" y1="459.80" x2="909.38" y2="459.80" stroke="#5f5f5f" stroke-width="1.5" stroke-linecap="butt"/>
<polyline points="695.00,353.50 695.00,345.80 731.50,345.80 731.50,353.50" fill="none" stroke="#000" stroke-width="1.4" stroke-linejoin="miter"/>
<text transform="translate(712.00,333.50) scale(0.87,1.17)" x="0" y="14.4" font-size="21" text-anchor="middle">*</text>
<polyline points="712.40,395.00 712.40,389.20 729.50,389.20 729.50,395.00" fill="none" stroke="#000" stroke-width="1.4" stroke-linejoin="miter"/>
<text transform="translate(720.20,376.50) scale(0.87,1.17)" x="0" y="14.4" font-size="21" text-anchor="middle">*</text>
<polyline points="780.30,353.50 780.30,345.80 816.80,345.80 816.80,353.50" fill="none" stroke="#000" stroke-width="1.4" stroke-linejoin="miter"/>
<text transform="translate(797.40,333.50) scale(0.87,1.17)" x="0" y="14.4" font-size="21" text-anchor="middle">*</text>
<polyline points="799.70,395.00 799.70,389.20 816.80,389.20 816.80,395.00" fill="none" stroke="#000" stroke-width="1.4" stroke-linejoin="miter"/>
<text transform="translate(806.70,376.50) scale(0.87,1.17)" x="0" y="14.4" font-size="21" text-anchor="middle">*</text>
<polyline points="867.60,353.50 867.60,345.80 906.00,345.80 906.00,353.50" fill="none" stroke="#000" stroke-width="1.4" stroke-linejoin="miter"/>
<text transform="translate(885.00,333.50) scale(0.87,1.17)" x="0" y="14.4" font-size="21" text-anchor="middle">*</text>
<polyline points="869.20,380.70 869.20,372.50 884.70,372.50 884.70,380.70" fill="none" stroke="#000" stroke-width="1.4" stroke-linejoin="miter"/>
<text transform="translate(876.10,360.00) scale(0.87,1.17)" x="0" y="14.4" font-size="21" text-anchor="middle">*</text>
<polyline points="888.50,395.00 888.50,387.30 904.50,387.30 904.50,395.00" fill="none" stroke="#000" stroke-width="1.4" stroke-linejoin="miter"/>
<text transform="translate(896.70,375.00) scale(0.87,1.17)" x="0" y="14.4" font-size="21" text-anchor="middle">*</text>
<line x1="582.00" y1="632.90" x2="582.00" y2="865.50" stroke="#000" stroke-width="1.4" stroke-linecap="butt"/>
<line x1="575.00" y1="858.50" x2="930.00" y2="858.50" stroke="#000" stroke-width="1.4" stroke-linecap="butt"/>
<line x1="575.00" y1="632.90" x2="582.00" y2="632.90" stroke="#000" stroke-width="1.4" stroke-linecap="butt"/>
<text x="563.40" y="640.70" font-size="21" text-anchor="end" >1</text>
<line x1="575.00" y1="678.02" x2="582.00" y2="678.02" stroke="#000" stroke-width="1.4" stroke-linecap="butt"/>
<text x="563.40" y="685.82" font-size="21" text-anchor="end" >0.8</text>
<line x1="575.00" y1="723.14" x2="582.00" y2="723.14" stroke="#000" stroke-width="1.4" stroke-linecap="butt"/>
<text x="563.40" y="730.94" font-size="21" text-anchor="end" >0.6</text>
<line x1="575.00" y1="768.26" x2="582.00" y2="768.26" stroke="#000" stroke-width="1.4" stroke-linecap="butt"/>
<text x="563.40" y="776.06" font-size="21" text-anchor="end" >0.4</text>
<line x1="575.00" y1="813.38" x2="582.00" y2="813.38" stroke="#000" stroke-width="1.4" stroke-linecap="butt"/>
<text x="563.40" y="821.18" font-size="21" text-anchor="end" >0.2</text>
<line x1="575.00" y1="858.50" x2="582.00" y2="858.50" stroke="#000" stroke-width="1.4" stroke-linecap="butt"/>
<text x="563.40" y="866.30" font-size="21" text-anchor="end" >0</text>
<line x1="669.00" y1="858.50" x2="669.00" y2="865.50" stroke="#000" stroke-width="1.4" stroke-linecap="butt"/>
<line x1="756.00" y1="858.50" x2="756.00" y2="865.50" stroke="#000" stroke-width="1.4" stroke-linecap="butt"/>
<line x1="843.00" y1="858.50" x2="843.00" y2="865.50" stroke="#000" stroke-width="1.4" stroke-linecap="butt"/>
<line x1="930.00" y1="858.50" x2="930.00" y2="865.50" stroke="#000" stroke-width="1.4" stroke-linecap="butt"/>
<text transform="translate(626.50,895.40) scale(0.93,1)" font-size="24" text-anchor="middle">0</text>
<text transform="translate(713.50,895.40) scale(0.93,1)" font-size="24" text-anchor="middle">1</text>
<text transform="translate(800.50,895.40) scale(0.93,1)" font-size="24" text-anchor="middle">7</text>
<text transform="translate(887.50,895.40) scale(0.93,1)" font-size="24" text-anchor="middle">13</text>
<text transform="translate(600.60,662.60) scale(0.97,1)" font-size="28.3" text-anchor="start">(G)</text>
<rect x="617.95" y="847.30" width="15.10" height="11.00" fill="#b0acab" stroke="#111" stroke-width="1.6"/>
<rect x="685.75" y="845.10" width="15.10" height="13.20" fill="#000" stroke="#111" stroke-width="1.6"/>
<line x1="693.30" y1="843.00" x2="693.30" y2="844.80" stroke="#5f5f5f" stroke-width="1.3" stroke-linecap="butt"/>
<line x1="688.40" y1="843.00" x2="698.20" y2="843.00" stroke="#5f5f5f" stroke-width="1.5" stroke-linecap="butt"/>
<rect x="704.95" y="842.10" width="15.10" height="16.20" fill="#b0acab" stroke="#111" stroke-width="1.6"/>
<line x1="712.50" y1="837.90" x2="712.50" y2="841.80" stroke="#5f5f5f" stroke-width="1.3" stroke-linecap="butt"/>
<line x1="707.60" y1="837.90" x2="717.40" y2="837.90" stroke="#5f5f5f" stroke-width="1.5" stroke-linecap="butt"/>
<rect x="724.15" y="843.40" width="15.10" height="14.90" fill="#fff" stroke="#111" stroke-width="1.6"/>
<line x1="731.70" y1="839.60" x2="731.70" y2="843.10" stroke="#5f5f5f" stroke-width="1.3" stroke-linecap="butt"/>
<line x1="726.80" y1="839.60" x2="736.60" y2="839.60" stroke="#5f5f5f" stroke-width="1.5" stroke-linecap="butt"/>
<rect x="772.75" y="847.30" width="15.10" height="11.00" fill="#000" stroke="#111" stroke-width="1.6"/>
<line x1="780.30" y1="844.80" x2="780.30" y2="847.00" stroke="#5f5f5f" stroke-width="1.3" stroke-linecap="butt"/>
<line x1="775.40" y1="844.80" x2="785.20" y2="844.80" stroke="#5f5f5f" stroke-width="1.5" stroke-linecap="butt"/>
<rect x="791.95" y="838.70" width="15.10" height="19.60" fill="#b0acab" stroke="#111" stroke-width="1.6"/>
<line x1="799.50" y1="834.00" x2="799.50" y2="838.40" stroke="#5f5f5f" stroke-width="1.3" stroke-linecap="butt"/>
<line x1="794.60" y1="834.00" x2="804.40" y2="834.00" stroke="#5f5f5f" stroke-width="1.5" stroke-linecap="butt"/>
<rect x="811.15" y="833.10" width="15.10" height="25.20" fill="#fff" stroke="#111" stroke-width="1.6"/>
<line x1="818.70" y1="829.30" x2="818.70" y2="832.80" stroke="#5f5f5f" stroke-width="1.3" stroke-linecap="butt"/>
<line x1="813.80" y1="829.30" x2="823.60" y2="829.30" stroke="#5f5f5f" stroke-width="1.5" stroke-linecap="butt"/>
<rect x="859.75" y="850.70" width="15.10" height="7.60" fill="#000" stroke="#111" stroke-width="1.6"/>
<line x1="867.30" y1="848.20" x2="867.30" y2="850.40" stroke="#5f5f5f" stroke-width="1.3" stroke-linecap="butt"/>
<line x1="862.40" y1="848.20" x2="872.20" y2="848.20" stroke="#5f5f5f" stroke-width="1.5" stroke-linecap="butt"/>
<rect x="878.95" y="831.40" width="15.10" height="26.90" fill="#b0acab" stroke="#111" stroke-width="1.6"/>
<line x1="886.50" y1="825.40" x2="886.50" y2="831.10" stroke="#5f5f5f" stroke-width="1.3" stroke-linecap="butt"/>
<line x1="881.60" y1="825.40" x2="891.40" y2="825.40" stroke="#5f5f5f" stroke-width="1.5" stroke-linecap="butt"/>
<rect x="898.15" y="819.30" width="15.10" height="39.00" fill="#fff" stroke="#111" stroke-width="1.6"/>
<line x1="905.70" y1="812.10" x2="905.70" y2="819.00" stroke="#5f5f5f" stroke-width="1.3" stroke-linecap="butt"/>
<line x1="900.80" y1="812.10" x2="910.60" y2="812.10" stroke="#5f5f5f" stroke-width="1.5" stroke-linecap="butt"/>
<polyline points="867.20,800.50 867.20,792.80 903.70,792.80 903.70,800.50" fill="none" stroke="#000" stroke-width="1.4" stroke-linejoin="miter"/>
<text transform="translate(884.40,782.40) scale(0.87,1.17)" x="0" y="14.4" font-size="21" text-anchor="middle">*</text>
<line x1="582.00" y1="935.00" x2="582.00" y2="1164.60" stroke="#000" stroke-width="1.4" stroke-linecap="butt"/>
<line x1="575.00" y1="1157.60" x2="930.00" y2="1157.60" stroke="#000" stroke-width="1.4" stroke-linecap="butt"/>
<line x1="575.00" y1="935.00" x2="582.00" y2="935.00" stroke="#000" stroke-width="1.4" stroke-linecap="butt"/>
<text x="563.40" y="942.80" font-size="21" text-anchor="end" >0.3</text>
<line x1="575.00" y1="972.10" x2="582.00" y2="972.10" stroke="#000" stroke-width="1.4" stroke-linecap="butt"/>
<text x="563.40" y="979.90" font-size="21" text-anchor="end" >0.25</text>
<line x1="575.00" y1="1009.20" x2="582.00" y2="1009.20" stroke="#000" stroke-width="1.4" stroke-linecap="butt"/>
<text x="563.40" y="1017.00" font-size="21" text-anchor="end" >0.2</text>
<line x1="575.00" y1="1046.30" x2="582.00" y2="1046.30" stroke="#000" stroke-width="1.4" stroke-linecap="butt"/>
<text x="563.40" y="1054.10" font-size="21" text-anchor="end" >0.15</text>
<line x1="575.00" y1="1083.40" x2="582.00" y2="1083.40" stroke="#000" stroke-width="1.4" stroke-linecap="butt"/>
<text x="563.40" y="1091.20" font-size="21" text-anchor="end" >0.1</text>
<line x1="575.00" y1="1120.50" x2="582.00" y2="1120.50" stroke="#000" stroke-width="1.4" stroke-linecap="butt"/>
<text x="563.40" y="1128.30" font-size="21" text-anchor="end" >0.05</text>
<line x1="575.00" y1="1157.60" x2="582.00" y2="1157.60" stroke="#000" stroke-width="1.4" stroke-linecap="butt"/>
<text x="563.40" y="1165.40" font-size="21" text-anchor="end" >0</text>
<line x1="669.00" y1="1157.60" x2="669.00" y2="1164.60" stroke="#000" stroke-width="1.4" stroke-linecap="butt"/>
<line x1="756.00" y1="1157.60" x2="756.00" y2="1164.60" stroke="#000" stroke-width="1.4" stroke-linecap="butt"/>
<line x1="843.00" y1="1157.60" x2="843.00" y2="1164.60" stroke="#000" stroke-width="1.4" stroke-linecap="butt"/>
<line x1="930.00" y1="1157.60" x2="930.00" y2="1164.60" stroke="#000" stroke-width="1.4" stroke-linecap="butt"/>
<text transform="translate(626.50,1194.60) scale(0.93,1)" font-size="24" text-anchor="middle">0</text>
<text transform="translate(713.50,1194.60) scale(0.93,1)" font-size="24" text-anchor="middle">1</text>
<text transform="translate(800.50,1194.60) scale(0.93,1)" font-size="24" text-anchor="middle">7</text>
<text transform="translate(887.50,1194.60) scale(0.93,1)" font-size="24" text-anchor="middle">13</text>
<text transform="translate(600.90,961.50) scale(0.97,1)" font-size="28.3" text-anchor="start">(H)</text>
<rect x="618.70" y="1105.60" width="13.60" height="51.80" fill="#b0acab" stroke="#111" stroke-width="1.6"/>
<line x1="625.50" y1="1094.50" x2="625.50" y2="1105.30" stroke="#5f5f5f" stroke-width="1.3" stroke-linecap="butt"/>
<line x1="620.60" y1="1094.50" x2="630.40" y2="1094.50" stroke="#5f5f5f" stroke-width="1.5" stroke-linecap="butt"/>
<rect x="686.50" y="1105.60" width="13.60" height="51.80" fill="#000" stroke="#111" stroke-width="1.6"/>
<line x1="693.30" y1="1095.30" x2="693.30" y2="1105.30" stroke="#5f5f5f" stroke-width="1.3" stroke-linecap="butt"/>
<line x1="688.40" y1="1095.30" x2="698.20" y2="1095.30" stroke="#5f5f5f" stroke-width="1.5" stroke-linecap="butt"/>
<rect x="705.70" y="1089.70" width="13.60" height="67.70" fill="#b0acab" stroke="#111" stroke-width="1.6"/>
<line x1="712.50" y1="1057.50" x2="712.50" y2="1089.40" stroke="#5f5f5f" stroke-width="1.3" stroke-linecap="butt"/>
<line x1="707.60" y1="1057.50" x2="717.40" y2="1057.50" stroke="#5f5f5f" stroke-width="1.5" stroke-linecap="butt"/>
<rect x="724.90" y="1066.90" width="13.60" height="90.50" fill="#fff" stroke="#111" stroke-width="1.6"/>
<line x1="731.70" y1="1050.20" x2="731.70" y2="1066.60" stroke="#5f5f5f" stroke-width="1.3" stroke-linecap="butt"/>
<line x1="726.80" y1="1050.20" x2="736.60" y2="1050.20" stroke="#5f5f5f" stroke-width="1.5" stroke-linecap="butt"/>
<rect x="773.50" y="1108.60" width="13.60" height="48.80" fill="#000" stroke="#111" stroke-width="1.6"/>
<line x1="780.30" y1="1097.00" x2="780.30" y2="1108.30" stroke="#5f5f5f" stroke-width="1.3" stroke-linecap="butt"/>
<line x1="775.40" y1="1097.00" x2="785.20" y2="1097.00" stroke="#5f5f5f" stroke-width="1.5" stroke-linecap="butt"/>
<rect x="792.70" y="1103.40" width="13.60" height="54.00" fill="#b0acab" stroke="#111" stroke-width="1.6"/>
<line x1="799.50" y1="1082.00" x2="799.50" y2="1103.10" stroke="#5f5f5f" stroke-width="1.3" stroke-linecap="butt"/>
<line x1="794.60" y1="1082.00" x2="804.40" y2="1082.00" stroke="#5f5f5f" stroke-width="1.5" stroke-linecap="butt"/>
<rect x="811.90" y="1094.80" width="13.60" height="62.60" fill="#fff" stroke="#111" stroke-width="1.6"/>
<line x1="818.70" y1="1082.00" x2="818.70" y2="1094.50" stroke="#5f5f5f" stroke-width="1.3" stroke-linecap="butt"/>
<line x1="813.80" y1="1082.00" x2="823.60" y2="1082.00" stroke="#5f5f5f" stroke-width="1.5" stroke-linecap="butt"/>
<rect x="860.50" y="1097.80" width="13.60" height="59.60" fill="#000" stroke="#111" stroke-width="1.6"/>
<line x1="867.30" y1="1079.00" x2="867.30" y2="1097.50" stroke="#5f5f5f" stroke-width="1.3" stroke-linecap="butt"/>
<line x1="862.40" y1="1079.00" x2="872.20" y2="1079.00" stroke="#5f5f5f" stroke-width="1.5" stroke-linecap="butt"/>
<rect x="879.70" y="1082.80" width="13.60" height="74.60" fill="#b0acab" stroke="#111" stroke-width="1.6"/>
<line x1="886.50" y1="1059.70" x2="886.50" y2="1082.50" stroke="#5f5f5f" stroke-width="1.3" stroke-linecap="butt"/>
<line x1="881.60" y1="1059.70" x2="891.40" y2="1059.70" stroke="#5f5f5f" stroke-width="1.5" stroke-linecap="butt"/>
<rect x="898.90" y="1077.70" width="13.60" height="79.70" fill="#fff" stroke="#111" stroke-width="1.6"/>
<line x1="905.70" y1="1059.70" x2="905.70" y2="1077.40" stroke="#5f5f5f" stroke-width="1.3" stroke-linecap="butt"/>
<line x1="900.80" y1="1059.70" x2="910.60" y2="1059.70" stroke="#5f5f5f" stroke-width="1.5" stroke-linecap="butt"/>
<text x="762.00" y="1239.00" font-size="32" text-anchor="middle" >Hour</text>
</svg></body></html>
